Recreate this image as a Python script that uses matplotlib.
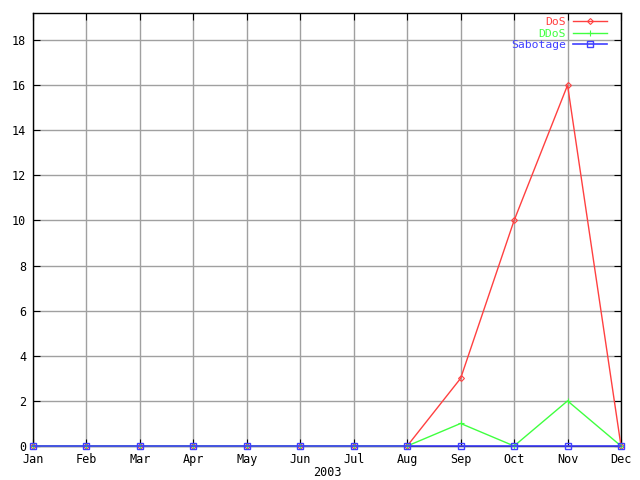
import matplotlib
matplotlib.use("Agg")
import matplotlib.pyplot as plt

months = ["Jan", "Feb", "Mar", "Apr", "May", "Jun", "Jul", "Aug", "Sep", "Oct", "Nov", "Dec"]
dos = [0, 0, 0, 0, 0, 0, 0, 0, 3, 10, 16, 0]
ddos = [0, 0, 0, 0, 0, 0, 0, 0, 1, 0, 2, 0]
sabotage = [0, 0, 0, 0, 0, 0, 0, 0, 0, 0, 0, 0]

plt.rcParams["font.family"] = "DejaVu Sans Mono"
plt.rcParams["font.size"] = 8.5

fig = plt.figure(figsize=(6.4, 4.8), dpi=100)
ax = fig.add_axes([33 / 640, 34 / 480, 588 / 640, 433 / 480])

x = list(range(len(months)))
ax.plot(x, dos, color="#ff4040", lw=1, marker="D", ms=3, mfc="none", mew=0.8,
        label="DoS", clip_on=False, zorder=4)
ax.plot(x, ddos, color="#40ff40", lw=1, marker="+", ms=5, mew=0.8,
        label="DDoS", clip_on=False, zorder=5)
ax.plot(x, sabotage, color="#4040ff", lw=1.2, marker="s", ms=4, mfc="none", mew=1,
        label="Sabotage", clip_on=False, zorder=6)

ax.set_xlim(0, 11)
ax.set_ylim(0, 19.2)
ax.set_xticks(x)
ax.set_xticklabels(months)
ax.set_yticks(range(0, 19, 2))
ax.grid(True, color="#a0a0a0", lw=1)
ax.set_axisbelow(True)
ax.tick_params(direction="in", length=5, top=True, right=True, color="black", pad=5)
for s in ax.spines.values():
    s.set_linewidth(1)
ax.set_xlabel("2003", labelpad=0)

leg = ax.legend(loc="upper right", frameon=False, markerfirst=False, labelcolor="linecolor",
                fontsize=8.2, handlelength=3.0, handletextpad=0.6, labelspacing=0.14,
                borderpad=0, borderaxespad=0,
                bbox_to_anchor=(607 / 640, 463 / 480), bbox_transform=fig.transFigure)

fig.savefig("out.png", dpi=100)
